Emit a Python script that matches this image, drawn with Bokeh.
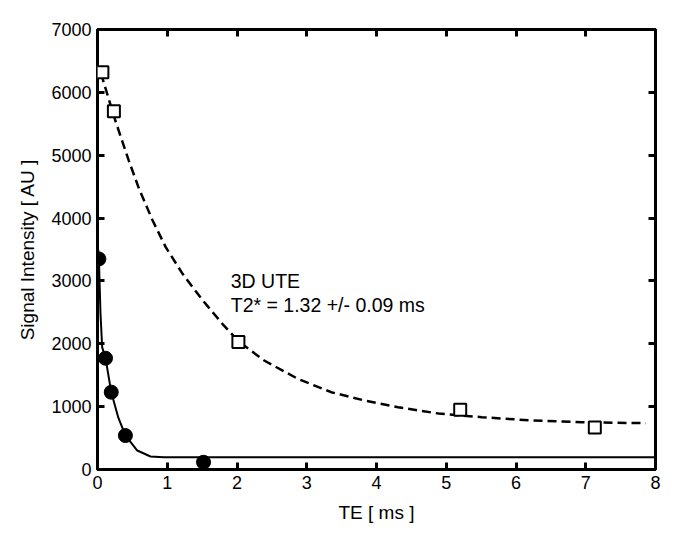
from bokeh.plotting import figure
from bokeh.models import Range1d, LinearAxis, FixedTicker, Label
from bokeh.embed import file_html
from bokeh.resources import INLINE

# Measured points (3D UTE, open squares)
sq_te = [0.07, 0.235, 2.02, 5.2, 7.13]
sq_si = [6320, 5700, 2030, 950, 670]

# Fast-decaying component (filled circles)
ci_te = [0.02, 0.115, 0.197, 0.40, 1.52]
ci_si = [3350, 1770, 1230, 540, 115]

# Dashed fit curve
fit_te = [0.05, 0.259, 0.45, 0.594, 0.787, 0.978, 1.22, 1.51, 1.79, 2.03, 2.39, 2.87,
          3.35, 3.83, 4.31, 4.89, 5.51, 6.23, 6.95, 7.86]
fit_si = [6300, 5540, 4910, 4470, 3970, 3537, 3113, 2689, 2318, 2030, 1734, 1443,
          1230, 1098, 990, 890, 832, 780, 752, 737]

# Solid fit curve
sol_te = [0.01, 0.02, 0.043, 0.067, 0.115, 0.197, 0.30, 0.40, 0.57, 0.76, 0.95, 8.0]
sol_si = [3500, 3350, 2477, 1946, 1771, 1230, 820, 541, 302, 207, 196, 196]

x_ticks = [0, 1, 2, 3, 4, 5, 6, 7, 8]
y_ticks = [0, 1000, 2000, 3000, 4000, 5000, 6000, 7000]

FONT = "Liberation Sans"

p = figure(width=664, height=528, output_backend="svg", toolbar_location=None,
           x_range=Range1d(0, 8), y_range=Range1d(0, 7000),
           min_border_left=97, min_border_right=9, min_border_top=29, min_border_bottom=59)
p.xgrid.visible = False
p.ygrid.visible = False
p.outline_line_color = "black"
p.outline_line_width = 3
p.outline_line_alpha = 1.0
p.background_fill_color = "white"
p.border_fill_color = "white"

def style(ax, ticks, labels=True):
    ax.ticker = FixedTicker(ticks=ticks)
    ax.axis_line_color = None
    ax.major_tick_in = 7
    ax.major_tick_out = 0
    ax.major_tick_line_width = 3
    ax.major_tick_line_color = "black"
    ax.minor_tick_line_color = None
    ax.major_label_text_font = FONT
    ax.major_label_text_color = "black"
    if labels:
        ax.major_label_text_font_size = "18px"
        ax.major_label_standoff = 6
    else:
        ax.major_label_text_font_size = "0px"
        ax.major_label_standoff = 0
        ax.major_label_text_color = None

style(p.xaxis[0], x_ticks)
style(p.yaxis[0], y_ticks)
p.xaxis.axis_label = "TE [ ms ]"
p.yaxis.axis_label = "Signal Intensity [ AU ]"
for ax in (p.xaxis[0], p.yaxis[0]):
    ax.axis_label_text_font = FONT
    ax.axis_label_text_font_size = "19px"
    ax.axis_label_text_font_style = "normal"
    ax.axis_label_text_color = "black"
p.xaxis[0].axis_label_standoff = 10
p.yaxis[0].axis_label_standoff = 10

top = LinearAxis()
style(top, x_ticks, labels=False)
p.add_layout(top, "above")
right = LinearAxis()
style(right, y_ticks, labels=False)
p.add_layout(right, "right")

p.line(fit_te, fit_si, line_color="black", line_width=2.5, line_dash="9 5")
p.line(sol_te, sol_si, line_color="black", line_width=2)
p.scatter(sq_te, sq_si, marker="square", size=12, fill_color="white",
          line_color="black", line_width=2)
p.scatter(ci_te, ci_si, marker="circle", size=14, fill_color="black",
          line_color="black")

p.add_layout(Label(x=1.91, y=3170, text="3D UTE", text_font=FONT,
                   text_font_size="19.5px", text_baseline="top", text_color="black"))
p.add_layout(Label(x=1.91, y=2790, text="T2* = 1.32 +/- 0.09 ms", text_font=FONT,
                   text_font_size="19.5px", text_baseline="top", text_color="black"))

open("out.html", "w").write(file_html(p, INLINE))
